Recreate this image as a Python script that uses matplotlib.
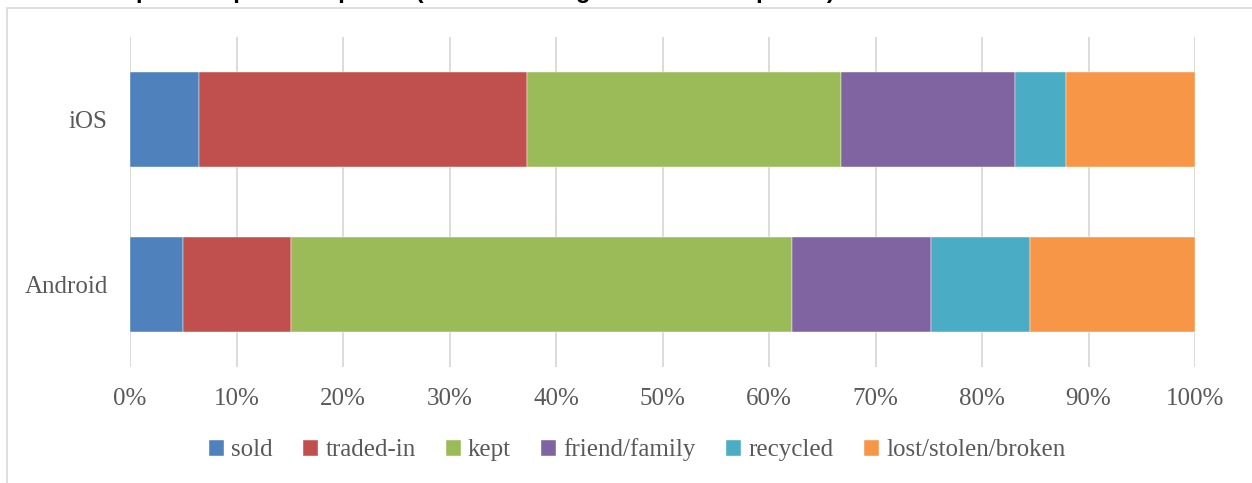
import matplotlib.pyplot as plt
from matplotlib.patches import Rectangle
from matplotlib.ticker import PercentFormatter

# share of users (%) per platform
platforms = ['Android', 'iOS']
series = ['sold', 'traded-in', 'kept', 'friend/family', 'recycled', 'lost/stolen/broken']
sold = [5.0, 6.5]
traded_in = [10.1, 30.8]
kept = [47.1, 29.5]
friend_family = [13.0, 16.3]
recycled = [9.3, 4.8]
lost = [15.5, 12.1]
colors = ['#4F81BD', '#C0504D', '#9BBB59', '#8064A2', '#4BACC6', '#F79646']
ticks = list(range(0, 101, 10))

W, H = 1252, 483
fig = plt.figure(figsize=(W / 100, H / 100), dpi=100)

# chart area border (clipped on the right / bottom like the screenshot)
fig.patches.append(Rectangle((7 / W, -0.1), 1.2, 1 - 8 / H + 0.1, transform=fig.transFigure,
                             fill=False, edgecolor='#d9d9d9', linewidth=1.2))

# title cut off at the top edge, as in the screenshot
fig.text(3 / W, 1 + 2 / H, 'Chart 6: Disposal of previous phone (after switching to the current phone)',
         fontsize=17, fontweight='bold', family='Liberation Sans', va='baseline', ha='left')

ax = fig.add_axes([130 / W, 1 - 367 / H, (1195 - 130) / W, 330 / H])

y = [0, 1]
left = [0, 0]
for name, vals, c in zip(series, [sold, traded_in, kept, friend_family, recycled, lost], colors):
    ax.barh(y, vals, left=left, height=0.576, color=c, label=name, zorder=3,
            edgecolor='white', linewidth=0.3)
    left = [l + v for l, v in zip(left, vals)]

ax.set_xlim(0, 100)
ax.set_ylim(-0.5, 1.5)
ax.set_xticks(ticks)
ax.xaxis.set_major_formatter(PercentFormatter(decimals=0))
ax.set_yticks(y)
ax.set_yticklabels(platforms)
ax.grid(axis='x', color='#d9d9d9', linewidth=1.3, zorder=0)
for s in ax.spines.values():
    s.set_visible(False)
ax.tick_params(length=0, labelsize=18, labelcolor='#595959')
ax.tick_params(axis='x', pad=15)
ax.tick_params(axis='y', pad=16)
for lab in ax.get_xticklabels() + ax.get_yticklabels():
    lab.set_family('Liberation Serif')

leg = fig.legend(loc='center', bbox_to_anchor=(637 / W, 1 - 450 / H), ncol=6, frameon=False,
                 handlelength=0.6, handleheight=0.6, handletextpad=0.3, columnspacing=1.2,
                 prop={'family': 'Liberation Serif', 'size': 18})
for t in leg.get_texts():
    t.set_color('#595959')

fig.savefig('out.png', dpi=100)
